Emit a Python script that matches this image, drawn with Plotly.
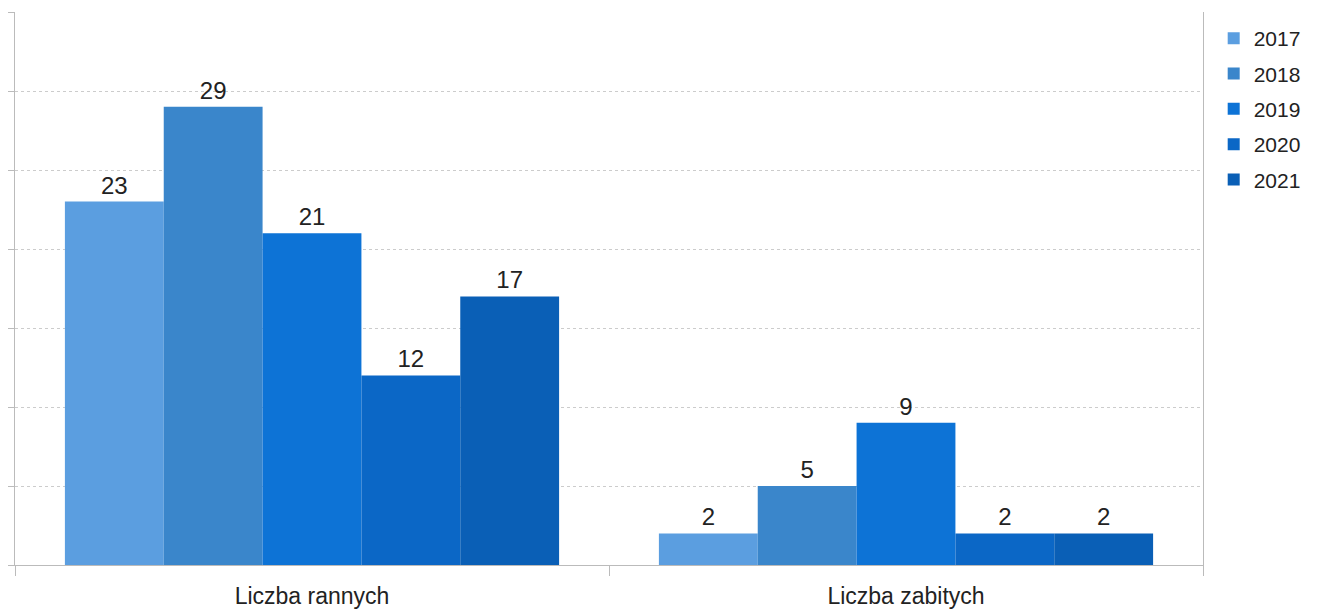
import plotly.graph_objects as go

categories = ["Liczba rannych", "Liczba zabitych"]
years = ["2017", "2018", "2019", "2020", "2021"]
values = {
    "2017": [23, 2],
    "2018": [29, 5],
    "2019": [21, 9],
    "2020": [12, 2],
    "2021": [17, 2],
}
colors = ["#5b9ee0", "#3a86cb", "#0d73d6", "#0b67c6", "#0a5fb6"]

fig = go.Figure()
for y, c in zip(years, colors):
    fig.add_trace(go.Bar(
        x=categories, y=values[y], name=y,
        marker=dict(color=c, line=dict(width=0)),
        text=values[y], textposition="outside",
        textfont=dict(size=24, color="#222222"),
        cliponaxis=False,
        legendgroup=y,
    ))

fig.update_layout(
    width=1304, height=606,
    margin=dict(l=7, r=109, t=4, b=49, autoexpand=False),
    paper_bgcolor="white", plot_bgcolor="white",
    font=dict(family="Liberation Sans, Arial, sans-serif", size=20, color="#222222"),
    barmode="group", bargap=0.168, bargroupgap=0,
    showlegend=True,
    legend=dict(x=1.009, y=0.989, xanchor="left", yanchor="top",
                font=dict(size=21, color="#222222"),
                tracegroupgap=5, itemwidth=30,
                bgcolor="rgba(0,0,0,0)"),
    uniformtext=dict(mode=False),
)
fig.update_yaxes(range=[0, 35], dtick=5, showticklabels=False, automargin=False,
                 showgrid=True, gridcolor="#cccccc", gridwidth=1, griddash="dot",
                 showline=True, linecolor="#bbbbbb", linewidth=1,
                 ticks="outside", ticklen=10, tickcolor="#bbbbbb",
                 mirror=True, zeroline=False)
fig.update_xaxes(showline=True, linecolor="#bbbbbb", linewidth=1, automargin=False,
                 tickson="boundaries", ticks="outside", ticklen=10, tickcolor="#bbbbbb",
                 ticklabelstandoff=10,
                 tickfont=dict(size=23, color="#222222"))

fig.write_html("out.html")
